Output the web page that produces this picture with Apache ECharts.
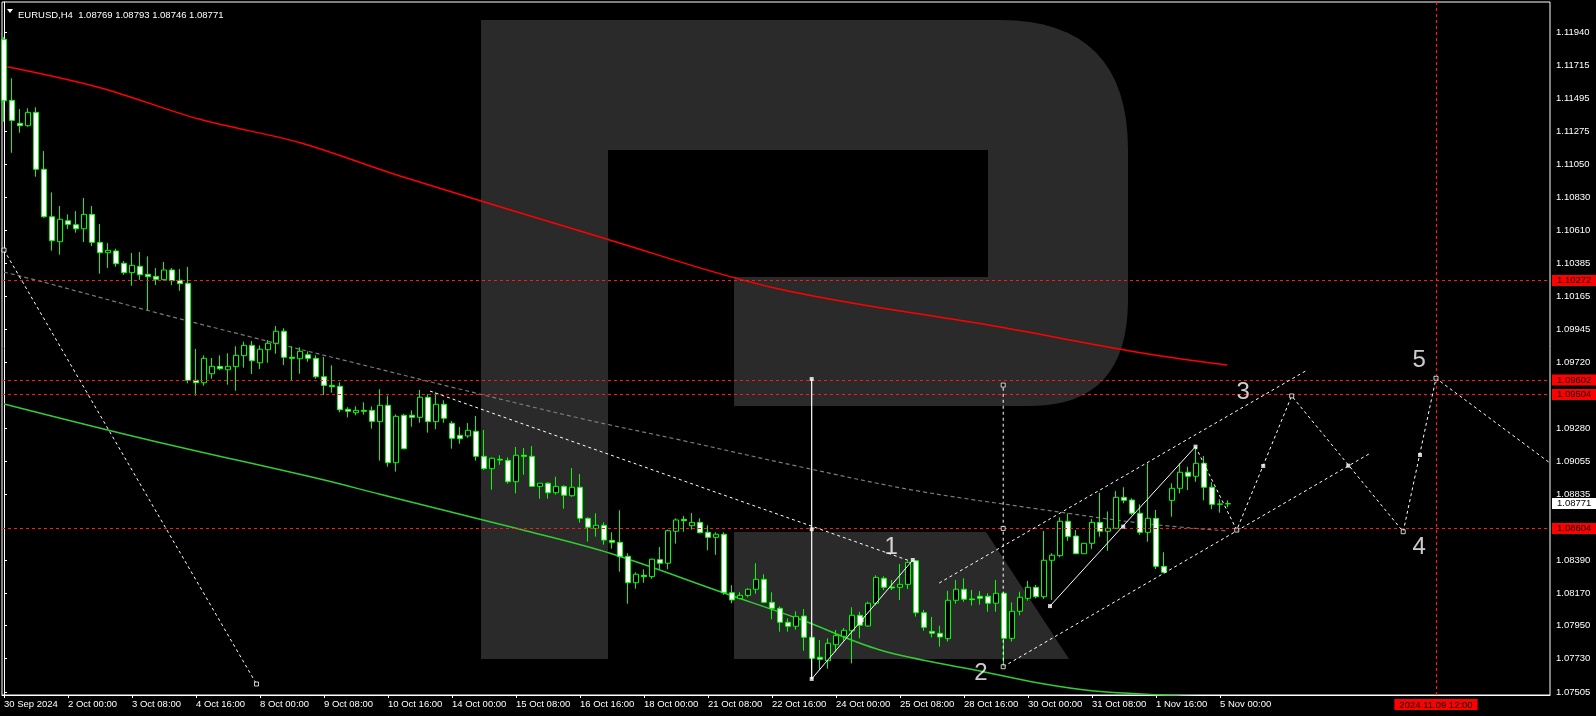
<!DOCTYPE html>
<html><head><meta charset="utf-8">
<script src="https://cdn.jsdelivr.net/npm/echarts@6/dist/echarts.min.js"></script>
<style>html,body{margin:0;padding:0;background:#000;}#c{width:1596px;height:716px;}</style>
</head><body><div id="c"></div>
<script>
// ---------- DATA ----------
const headerText = 'EURUSD,H4  1.08769 1.08793 1.08746 1.08771';
const xLabels = ['30 Sep 2024','2 Oct 00:00','3 Oct 08:00','4 Oct 16:00','8 Oct 00:00','9 Oct 08:00','10 Oct 16:00','14 Oct 00:00','15 Oct 08:00','16 Oct 16:00','18 Oct 00:00','21 Oct 08:00','22 Oct 16:00','24 Oct 00:00','25 Oct 08:00','28 Oct 16:00','30 Oct 00:00','31 Oct 08:00','1 Nov 16:00','5 Nov 00:00'];
const xLabelBars = [0,8,16,24,32,40,48,56,64,72,80,88,96,104,112,120,128,136,144,152];
const yTickLabels = ['1.11940','1.11715','1.11495','1.11275','1.11050','1.10830','1.10610','1.10385','1.10165','1.09945','1.09720','1.09280','1.09055','1.08835','1.08390','1.08170','1.07950','1.07730','1.07505'];

const opens = [1.11893,1.11483,1.11328,1.11312,1.11402,1.11019,1.10700,1.10532,1.10673,1.10646,
1.10619,1.10716,1.10528,1.10458,1.10470,1.10387,1.10324,1.10367,1.10313,1.10299,
1.10277,1.10342,1.10273,1.10252,1.09600,1.09584,1.09644,1.09694,1.09671,1.09692,
1.09766,1.09835,1.09718,1.09806,1.09849,1.09930,1.09755,1.09745,1.09772,1.09748,
1.09624,1.09566,1.09560,1.09405,1.09382,1.09398,1.09398,1.09322,1.09432,1.09046,
1.09365,1.09365,1.09351,1.09486,1.09322,1.09439,1.09311,1.09230,1.09226,1.09257,
1.09089,1.09006,1.09069,1.09062,1.08918,1.09096,1.09089,1.08887,1.08908,1.08844,
1.08887,1.08824,1.08881,1.08672,1.08605,1.08625,1.08524,1.08511,1.08417,1.08239,
1.08289,1.08280,1.08394,1.08370,1.08585,1.08665,1.08622,1.08645,1.08578,1.08544,
1.08565,1.08172,1.08134,1.08154,1.08195,1.08262,1.08107,1.08067,1.07973,1.07946,
1.08015,1.07872,1.07738,1.07715,1.07822,1.07879,1.07916,1.08020,1.07948,1.08101,
1.08269,1.08210,1.08208,1.08228,1.08387,1.08037,1.07912,1.07899,1.07863,1.08121,
1.08195,1.08130,1.08148,1.08148,1.08101,1.08168,1.07865,1.08047,1.08134,1.08208,
1.08145,1.08390,1.08421,1.08652,1.08553,1.08434,1.08504,1.08645,1.08585,1.08605,
1.08813,1.08795,1.08706,1.08578,1.08672,1.08349,1.08793,1.08874,1.08982,1.08955,
1.09042,1.08881,1.08766,1.08769];
const closes = [1.11480,1.11348,1.11312,1.11402,1.11019,1.10700,1.10539,1.10683,1.10649,1.10619,
1.10716,1.10528,1.10458,1.10474,1.10384,1.10324,1.10373,1.10310,1.10297,1.10279,
1.10342,1.10270,1.10250,1.09600,1.09584,1.09748,1.09694,1.09678,1.09694,1.09768,
1.09835,1.09732,1.09809,1.09849,1.09930,1.09755,1.09748,1.09795,1.09748,1.09624,
1.09566,1.09557,1.09402,1.09392,1.09398,1.09392,1.09324,1.09432,1.09046,1.09358,
1.09140,1.09351,1.09486,1.09322,1.09439,1.09345,1.09210,1.09207,1.09264,1.09089,
1.09006,1.09076,1.09064,1.08918,1.09096,1.09089,1.08887,1.08908,1.08844,1.08887,
1.08827,1.08881,1.08672,1.08612,1.08625,1.08526,1.08511,1.08414,1.08239,1.08296,
1.08280,1.08397,1.08370,1.08589,1.08661,1.08656,1.08645,1.08575,1.08544,1.08565,
1.08172,1.08123,1.08154,1.08195,1.08262,1.08107,1.08067,1.07973,1.07946,1.08013,
1.07872,1.07731,1.07724,1.07832,1.07883,1.07919,1.08020,1.07953,1.08101,1.08275,
1.08208,1.08204,1.08228,1.08376,1.08037,1.07939,1.07899,1.07874,1.08121,1.08195,
1.08128,1.08125,1.08134,1.08101,1.08168,1.07865,1.08047,1.08141,1.08208,1.08145,
1.08390,1.08424,1.08652,1.08549,1.08434,1.08504,1.08645,1.08585,1.08605,1.08813,
1.08793,1.08706,1.08578,1.08672,1.08349,1.08309,1.08874,1.08982,1.08955,1.09042,
1.08881,1.08766,1.08769,1.08771];
const highs = [1.11908,1.11631,1.11424,1.11429,1.11436,1.11142,1.10864,1.10772,1.10716,1.10738,
1.10826,1.10772,1.10651,1.10523,1.10485,1.10402,1.10456,1.10463,1.10434,1.10355,
1.10396,1.10355,1.10348,1.10362,1.09811,1.09768,1.09750,1.09768,1.09782,1.09829,
1.09860,1.09864,1.09835,1.09871,1.09965,1.09950,1.09829,1.09822,1.09795,1.09768,
1.09757,1.09701,1.09587,1.09419,1.09425,1.09452,1.09425,1.09540,1.09497,1.09371,
1.09375,1.09398,1.09535,1.09506,1.09519,1.09466,1.09326,1.09286,1.09313,1.09360,
1.09266,1.09082,1.09096,1.09082,1.09152,1.09145,1.09158,1.08908,1.08914,1.08952,
1.08894,1.09010,1.08970,1.08679,1.08706,1.08645,1.08578,1.08726,1.08437,1.08309,
1.08329,1.08401,1.08479,1.08596,1.08672,1.08688,1.08708,1.08672,1.08625,1.08578,
1.08578,1.08222,1.08175,1.08202,1.08370,1.08296,1.08175,1.08080,1.08000,1.08047,
1.08062,1.07899,1.07854,1.07865,1.07921,1.07935,1.08074,1.08044,1.08111,1.08289,
1.08282,1.08257,1.08365,1.08383,1.08392,1.08056,1.08009,1.07950,1.08185,1.08257,
1.08269,1.08190,1.08183,1.08168,1.08257,1.08179,1.08107,1.08179,1.08251,1.08224,
1.08587,1.08437,1.08679,1.08706,1.08594,1.08504,1.08667,1.08844,1.08718,1.08856,
1.08881,1.08807,1.08766,1.09042,1.08728,1.08444,1.08908,1.09042,1.09019,1.09154,
1.09091,1.08915,1.08800,1.08793];
const lows = [1.11339,1.11130,1.11265,1.11305,1.10969,1.10693,1.10472,1.10445,1.10617,1.10593,
1.10530,1.10503,1.10317,1.10355,1.10364,1.10310,1.10236,1.10275,1.10073,1.10241,
1.10270,1.10241,1.10202,1.09580,1.09497,1.09564,1.09611,1.09669,1.09571,1.09530,
1.09685,1.09642,1.09676,1.09718,1.09779,1.09703,1.09600,1.09644,1.09725,1.09611,
1.09501,1.09517,1.09385,1.09351,1.09365,1.09369,1.09275,1.09060,1.09019,1.08986,
1.09136,1.09288,1.09315,1.09248,1.09271,1.09315,1.09140,1.09174,1.09214,1.09060,
1.08997,1.08864,1.09032,1.08905,1.08840,1.08965,1.08887,1.08804,1.08804,1.08831,
1.08737,1.08817,1.08643,1.08515,1.08549,1.08495,1.08468,1.08313,1.08098,1.08199,
1.08239,1.08266,1.08329,1.08329,1.08502,1.08582,1.08596,1.08571,1.08457,1.08427,
1.08158,1.08101,1.08128,1.08141,1.08165,1.08101,1.07993,1.07910,1.07910,1.07923,
1.07782,1.07596,1.07652,1.07661,1.07775,1.07849,1.07697,1.07865,1.07943,1.08087,
1.08190,1.08190,1.08123,1.08197,1.08011,1.07916,1.07871,1.07809,1.07843,1.08098,
1.08111,1.08085,1.08091,1.08044,1.08044,1.07674,1.07843,1.08020,1.08118,1.08134,
1.08130,1.08123,1.08410,1.08520,1.08434,1.08434,1.08466,1.08549,1.08454,1.08601,
1.08773,1.08694,1.08562,1.08515,1.08331,1.08302,1.08683,1.08840,1.08862,1.08918,
1.08793,1.08733,1.08710,1.08746];

// moving averages read at sample bars: [bar, price]
const maRed = [[0.4,1.11709],[12,1.11568],[24.5,1.11355],[37,1.11198],[49.5,1.10974],[74.5,1.10564],[96.3,1.10221],[124.5,1.09958],[143.25,1.09775],[152.9,1.09703]];
const maGreen = [[0,1.09441],[18.25,1.09197],[39.5,1.08936],[47,1.08834],[64.5,1.08598],[75.75,1.08437],[89.9,1.08172],[99.5,1.07993],[109.5,1.07787],[122,1.07645],[129.5,1.07563],[136,1.07513],[145.75,1.07481],[153,1.07464]];
const maGrey = [[0,1.10328],[4.9,1.10261],[18.25,1.10066],[30.75,1.09893],[43.25,1.09725],[55.75,1.09557],[72,1.09345],[84.5,1.09199],[99.5,1.09019],[113.6,1.08862],[129.5,1.08733],[142.4,1.08638],[152.9,1.08587]];

// drawn objects: [bar, price]
const trendDotted1 = [[0,1.10476],[31.56,1.07558]];
const trendDotted2 = [[53.25,1.09528],[113.25,1.08385]];
const wave1Line = [[100.96,1.07592],[113.6,1.08392]];
const wave3Line = [[130.75,1.08082],[148.94,1.09154]];
const projSolid = [[100.96,1.07592],[100.96,1.09609]];
const projDashed = [[124.9,1.07674],[124.9,1.09568]];
const channelUpper = [[116.9,1.08237],[162.9,1.09669]];
const channelLower = [[124.9,1.07674],[170.75,1.09109]];
const forecastPath = [[148.94,1.09154],[154.09,1.08593],[160.96,1.09495],[174.9,1.08582],[179,1.09614],[193.25,1.09044]];
const markersFilled = [[100.96,1.09609],[100.96,1.08598],[100.96,1.07592],[113.6,1.08392],[107.2,1.07988],[130.75,1.08082],[139.9,1.08616],[148.94,1.09154],[157.4,1.09024],[168.04,1.09026],[177,1.09098]];
const markersHollow = [[0,1.10476],[31.56,1.07558],[124.9,1.09568],[124.9,1.08604],[124.9,1.07674],[154.09,1.08593],[174.9,1.08582],[179,1.09614],[160.96,1.09495]];
const waveLabels = [[110.9,1.08479,'1'],[122.1,1.07632,'2'],[154.9,1.09521,'3'],[176.9,1.08479,'4'],[176.9,1.09737,'5']];

const levelValues = [1.10272, 1.09602, 1.09504, 1.08604];
const levelLabels = ['1.10272','1.09602','1.09504','1.08604'];
const currentPrice = 1.08771, currentPriceLabel = '1.08771';
const targetBar = 179, targetTimeLabel = '2024.11.09 12:00';

// ---------- CHART ----------
const FONT = 'Liberation Sans, Arial, sans-serif';
const chart = echarts.init(document.getElementById('c'), null, {renderer:'canvas'});
const candleData = opens.map((o,i)=>[i, o, closes[i], lows[i], highs[i]]);

function lineSeries(data, color, type, width, z, smooth){
  return {type:'line', data, showSymbol:false, symbol:'none', silent:true, animation:false, z:z||3, smooth:smooth||false,
    lineStyle:{color, type, width}, clip:true};
}
// watermark "R" outline (decoration, screen pixels)
function quad(p0,c,p1,n){const out=[];for(let i=1;i<=n;i++){const t=i/n,u=1-t;out.push([u*u*p0[0]+2*u*t*c[0]+t*t*p1[0],u*u*p0[1]+2*u*t*c[1]+t*t*p1[1]]);}return out;}
const bowl = [[608,20],[1000,20]].concat(quad([1000,20],[1128,20],[1128,150],16),[[1128,300]],quad([1128,300],[1128,406],[1030,406],16),[[734,406],[734,277],[988,277],[988,150],[608,150]]);
const RC = '#2a2a2a';
const markLineLabel = (txt, bg, pos, dist) => ({show:true, position:pos, formatter:txt, color:'#000', backgroundColor:bg, padding:[1,5,0,5], fontSize:9.5, fontFamily:FONT, distance:dist});
const option = {
  backgroundColor:'#000',
  animation:false,
  title:{text:headerText, left:13, top:5, textStyle:{color:'#fff', fontSize:9.5, fontWeight:'normal', fontFamily:FONT}},
  graphic:[
    {type:'polygon', shape:{points:[[7,9],[13,9],[10,13]]}, style:{fill:'#fff'}},
    {type:'rect', z:-10, silent:true, shape:{x:481,y:20,width:127,height:639}, style:{fill:RC}},
    {type:'polygon', z:-10, silent:true, shape:{points:bowl}, style:{fill:RC}},
    {type:'polygon', z:-10, silent:true, shape:{points:[[734,532],[986,532],[1069,659],[734,659]]}, style:{fill:RC}}
  ],
  grid:{left:2, right:46, top:2, bottom:21, show:true, borderColor:'#fff', borderWidth:1, backgroundColor:'transparent'},
  xAxis:{type:'value', min:-0.25, max:193.25, splitLine:{show:false},
    axisLine:{show:true, lineStyle:{color:'#fff'}},
    axisTick:{show:true, customValues:xLabelBars, length:3, lineStyle:{color:'#fff'}},
    axisLabel:{show:true, customValues:xLabelBars, color:'#fff', fontSize:9.5, fontFamily:FONT, align:'left', margin:4,
      formatter:v=>{const k=xLabelBars.indexOf(Math.round(v)); return k>=0?xLabels[k]:'';}}
  },
  yAxis:{type:'value', position:'right', min:1.07484, max:1.12144, splitLine:{show:false},
    axisLine:{show:true, lineStyle:{color:'#fff'}},
    axisTick:{show:true, customValues:yTickLabels.map(Number), length:3, lineStyle:{color:'#fff'}},
    axisLabel:{show:true, customValues:yTickLabels.map(Number), color:'#fff', fontSize:9.5, fontFamily:FONT, margin:6,
      formatter:v=>v.toFixed(5)}
  },
  series:[
    lineSeries(maRed,'#ff0000','solid',1.5,2,0.35),
    lineSeries(maGreen,'#33cc33','solid',1.5,2,0.35),
    lineSeries(maGrey,'#7a7a7a',[4,3],1.2,2,0.35),
    {type:'candlestick', data:candleData, encode:{x:0, y:[1,2,3,4]}, barWidth:5, z:4, silent:true, animation:false,
      itemStyle:{color:'#000', color0:'#fff', borderColor:'#00ff00', borderColor0:'#00ff00', borderWidth:1}},
    lineSeries(trendDotted1,'#fff',[3,3],1,5),
    lineSeries(trendDotted2,'#fff',[3,3],1,5),
    lineSeries(wave1Line,'#fff','solid',1,5),
    lineSeries(wave3Line,'#fff','solid',1,5),
    lineSeries(projSolid,'#fff','solid',1.2,5),
    lineSeries(projDashed,'#fff',[3,3],1,5),
    lineSeries(channelUpper,'#fff',[3,3],1,5),
    lineSeries(channelLower,'#fff',[3,3],1,5),
    Object.assign(lineSeries(forecastPath,'#fff',[3,3],1,5), {
      markLine:{symbol:['none','none'], silent:true, animation:false, precision:5,
        data: levelValues.map((v,i)=>({yAxis:v, lineStyle:{color:'#ff1a1a', type:[3,3], width:1.2}, label:markLineLabel(levelLabels[i],'#ff0000','end',2)}))
          .concat([
            {yAxis:currentPrice, lineStyle:{color:'rgba(0,0,0,0)', width:0}, label:markLineLabel(currentPriceLabel,'#ffffff','end',2)},
            {xAxis:targetBar, lineStyle:{color:'#ff1a1a', type:[3,3], width:1.2}, label:markLineLabel(targetTimeLabel,'#ff0000','start',4)}
          ])
      }}),
    {type:'scatter', data:markersFilled, symbol:'rect', symbolSize:4, itemStyle:{color:'#fff'}, z:6, silent:true, animation:false},
    {type:'scatter', data:markersHollow, symbol:'rect', symbolSize:4, itemStyle:{color:'#000', borderColor:'#fff', borderWidth:1}, z:6, silent:true, animation:false},
    {type:'scatter', data:waveLabels, symbolSize:1, itemStyle:{color:'rgba(0,0,0,0)'}, z:7, silent:true, animation:false,
      label:{show:true, position:'inside', formatter:p=>p.data[2], color:'#fff', fontSize:24, fontFamily:FONT}}
  ]
};
chart.setOption(option);
</script></body></html>
